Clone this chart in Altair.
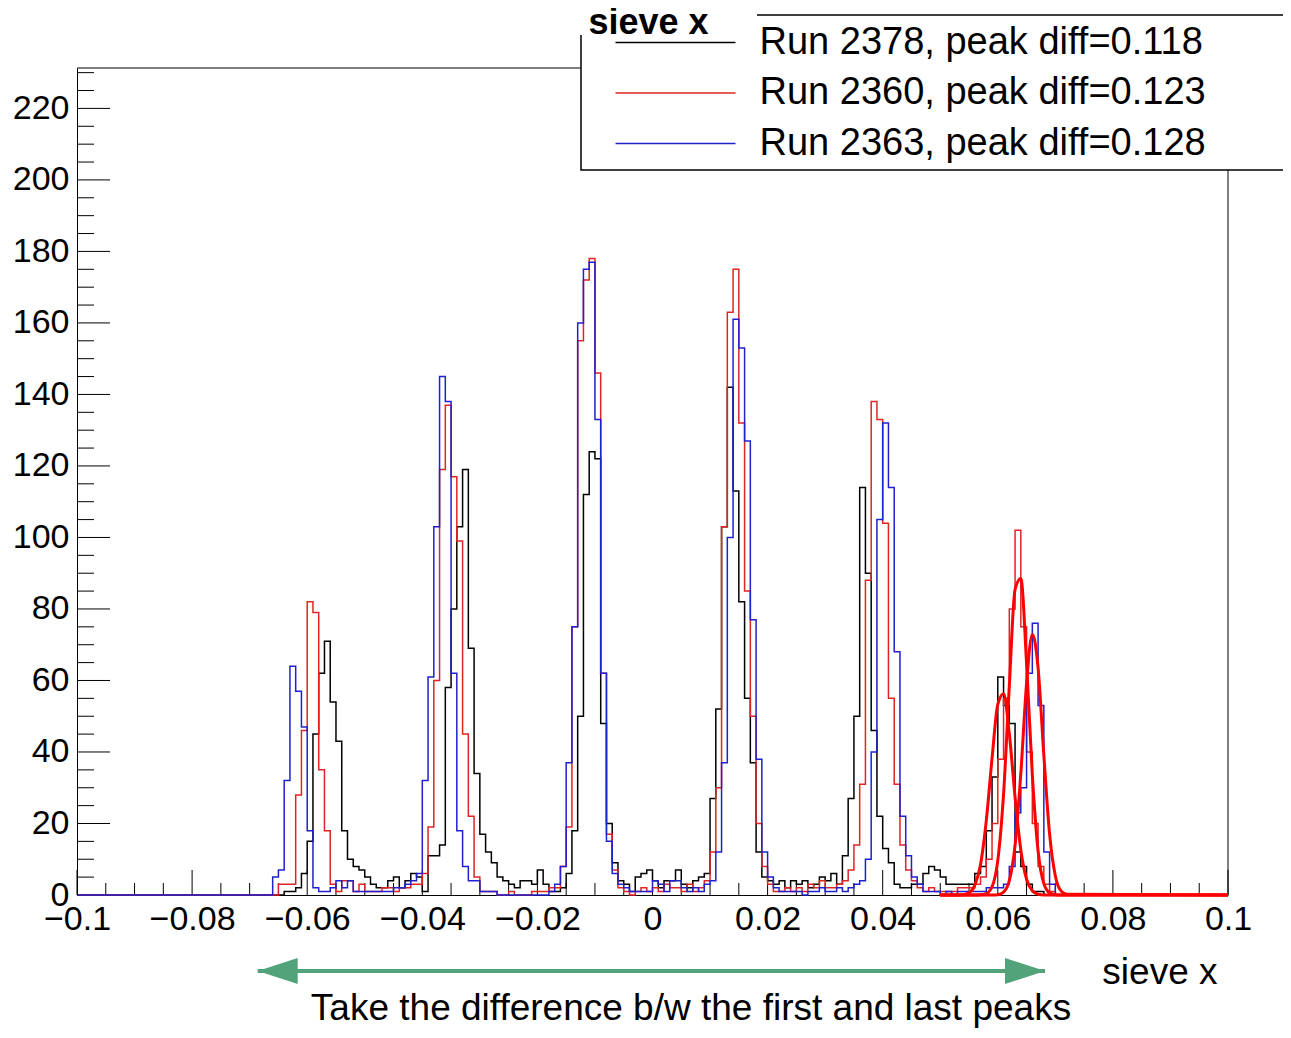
import altair as alt
import pandas as pd

# ---------------- data ----------------
X_MIN, X_MAX = -0.1, 0.1
N_BINS = 200
BIN_W = 0.001
FIRST_BIN = 30          # counts below start at bin 30 (x = -0.070)

runs = ["Run 2378, peak diff=0.118", "Run 2360, peak diff=0.123", "Run 2363, peak diff=0.128"]
run_colors = ["#000000", "#e02424", "#2020d0"]

counts_2378 = [
    0, 0, 0, 0, 0, 0, 1, 1, 2, 6,
    15, 45, 62, 71, 54, 43, 18, 10, 8, 7,
    5, 3, 2, 2, 4, 5, 2, 4, 6, 5,
    1, 11, 11, 14, 58, 80, 103, 119, 69, 34,
    17, 12, 9, 5, 4, 3, 2, 4, 4, 3,
    7, 3, 1, 1, 2, 6, 18, 50, 112, 124,
    122, 48, 20, 9, 4, 3, 1, 5, 6, 7,
    4, 2, 4, 4, 7, 3, 2, 4, 5, 6,
    27, 52, 103, 142, 113, 82, 55, 37, 12, 5,
    4, 3, 4, 2, 4, 3, 4, 2, 3, 5,
    4, 6, 3, 11, 27, 50, 114, 90, 46, 22,
    13, 9, 3, 2, 2, 3, 3, 6, 8, 7,
    5, 3, 3, 3, 3, 3, 6, 8, 18, 33,
    61, 53, 48, 12, 8, 3, 1, 1, 0, 0,
    0, 0, 0,
]
counts_2360 = [
    0, 0, 0, 0, 0, 3, 3, 3, 28, 46,
    82, 79, 35, 18, 3, 1, 4, 4, 1, 3,
    1, 1, 1, 2, 2, 1, 2, 2, 3, 3,
    6, 19, 60, 119, 137, 117, 99, 45, 22, 5,
    1, 1, 1, 0, 0, 1, 0, 0, 0, 1,
    1, 1, 2, 2, 8, 19, 75, 155, 172, 178,
    146, 62, 17, 7, 2, 1, 0, 1, 2, 1,
    2, 1, 3, 2, 2, 1, 3, 1, 2, 4,
    12, 30, 103, 163, 175, 132, 85, 50, 20, 8,
    3, 1, 1, 2, 1, 2, 1, 3, 2, 4,
    2, 2, 3, 4, 7, 14, 31, 88, 138, 133,
    104, 55, 31, 14, 7, 4, 2, 1, 2, 1,
    1, 1, 1, 2, 2, 2, 3, 5, 10, 20,
    38, 55, 80, 102, 75, 40, 20, 8, 3, 1,
    0, 0, 0,
]
counts_2363 = [
    0, 0, 0, 0, 5, 7, 32, 64, 57, 47,
    18, 2, 1, 1, 2, 4, 2, 4, 1, 1,
    1, 1, 1, 1, 1, 2, 2, 3, 4, 6,
    32, 61, 103, 145, 138, 62, 18, 8, 4, 4,
    1, 1, 1, 0, 0, 0, 0, 0, 0, 0,
    0, 0, 1, 3, 8, 37, 75, 160, 175, 177,
    133, 62, 15, 6, 3, 2, 1, 1, 1, 1,
    4, 3, 1, 4, 4, 2, 1, 2, 1, 3,
    4, 12, 37, 100, 161, 153, 127, 77, 38, 12,
    5, 2, 1, 1, 1, 1, 0, 1, 1, 2,
    1, 1, 2, 1, 2, 3, 4, 10, 40, 105,
    132, 114, 68, 22, 11, 5, 3, 1, 1, 1,
    0, 1, 0, 1, 1, 1, 1, 1, 2, 2,
    2, 3, 8, 23, 30, 62, 76, 53, 12, 3,
    0, 0, 0,
]

# gaussian fits on the last peak
fit_x = [0.050, 0.051, 0.052, 0.053, 0.054, 0.055, 0.056, 0.057, 0.058, 0.059,
         0.060, 0.061, 0.062, 0.063, 0.064, 0.065, 0.066, 0.067, 0.068, 0.069,
         0.070, 0.071, 0.072, 0.100]
fit_2378 = [0, 0, 0, 0, 0.1, 0.6, 2.7, 8.5, 20.8, 38.2,
            53.3, 56.3, 45.1, 27.4, 12.6, 4.4, 1.2, 0.2, 0, 0,
            0, 0, 0, 0]
fit_2360 = [0, 0, 0, 0, 0, 0, 0, 0.05, 0.4, 2.3,
            9.7, 28.2, 58.4, 85.5, 88.5, 64.8, 33.6, 12.3, 3.2, 0.6,
            0.1, 0, 0, 0]
fit_2363 = [0, 0, 0, 0, 0, 0, 0, 0, 0, 0,
            0.1, 0.8, 4.0, 13.9, 34.0, 59.2, 72.9, 63.5, 39.1, 17.0,
            5.3, 1.1, 0.2, 0]

x_tick_values = [-0.1, -0.08, -0.06, -0.04, -0.02, 0, 0.02, 0.04, 0.06, 0.08, 0.1]
y_tick_values = [0, 20, 40, 60, 80, 100, 120, 140, 160, 180, 200, 220]

arrow_ends = [-0.0686, 0.0682]
caption = "Take the difference b/w the first and last peaks"
title_text = "sieve x"
x_title = "sieve x"

# ---------------- layout constants ----------------
PLOT_W, PLOT_H = 1151, 827
Y_TOP = 231.3
FONT = "Liberation Sans"
GREEN = "#52a27a"

edges = [round(X_MIN + i * BIN_W, 4) for i in range(N_BINS + 1)]


def hist_frame(name, counts):
    full = [0] * N_BINS
    for i, c in enumerate(counts):
        full[FIRST_BIN + i] = c
    return pd.DataFrame({"x": edges, "y": full + [full[-1]], "run": name})


x_scale = alt.Scale(domain=[X_MIN, X_MAX], nice=False, zero=False)
y_scale = alt.Scale(domain=[0, Y_TOP], nice=False)
color_scale = alt.Scale(domain=runs, range=run_colors)

x_axis = alt.Axis(
    values=x_tick_values, format="~g",
    labelExpr="replace(datum.label, '-', '\u2212')",
    labelFontSize=34, labelFont=FONT, labelColor="black", labelPadding=7,
    labelFlush=False, labelOverlap=False,
    ticks=False, tickSize=0, grid=False,
    domainColor="black", domainWidth=1,
    title=x_title, titleFont=FONT, titleFontSize=37, titleFontWeight="normal",
    titleColor="black", titleAlign="right", titleBaseline="alphabetic",
    titleX=1140, titleY=88, titleAnchor="end",
)
# the histogram title ("sieve x", top) is carried by the y axis so that it
# is drawn above the legend box, as in the ROOT canvas
y_axis = alt.Axis(
    values=y_tick_values, format="d",
    labelFontSize=34, labelFont=FONT, labelColor="black", labelPadding=8,
    labelFlush=False, labelOverlap=False,
    ticks=False, tickSize=0, grid=False,
    domainColor="black", domainWidth=1,
    title=title_text, titleFont=FONT, titleFontSize=36, titleFontWeight="bold",
    titleColor="black", titleAngle=0, titleAlign="left", titleBaseline="alphabetic",
    titleX=511, titleY=-35, zindex=5,
)

legend = alt.Legend(
    title=None, orient="none", legendX=504, legendY=-53,
    symbolType="M-4,0H4", symbolSize=900, symbolStrokeWidth=1.5,
    labelFontSize=38, labelFont=FONT, labelColor="black", labelLimit=2000,
    padding=8.5, rowPadding=12.5, symbolOffset=67, labelOffset=65,
)

X = alt.X("x:Q", scale=x_scale, axis=x_axis)
Y = alt.Y("y:Q", scale=y_scale, axis=y_axis)


def hist_layer(name, counts):
    return alt.Chart(hist_frame(name, counts)).mark_line(
        interpolate="step-after", strokeWidth=1.5
    ).encode(
        x=X, y=Y,
        color=alt.Color("run:N", scale=color_scale, legend=legend),
    )


fit_df = pd.concat([
    pd.DataFrame({"x": fit_x, "y": f, "fit": k})
    for k, f in zip(runs, [fit_2378, fit_2360, fit_2363])
])
fits = alt.Chart(fit_df).mark_line(
    color="#ff0000", strokeWidth=3, interpolate="monotone"
).encode(x=X, y=Y, detail="fit:N")

# ticks drawn inside the frame (ROOT style)
x_major_df = pd.DataFrame({"x": x_tick_values})
x_minor_df = pd.DataFrame({"x": [round(X_MIN + 0.005 * i, 4) for i in range(41) if i % 4]})
y_major_df = pd.DataFrame({"y": y_tick_values})
y_minor_df = pd.DataFrame({"y": [5 * i for i in range(47) if i % 4]})

xt_major = alt.Chart(x_major_df).mark_rule(color="black", strokeWidth=1).encode(
    x=X, y=alt.value(PLOT_H), y2=alt.value(PLOT_H - 25))
xt_minor = alt.Chart(x_minor_df).mark_rule(color="black", strokeWidth=1).encode(
    x=X, y=alt.value(PLOT_H), y2=alt.value(PLOT_H - 12))
yt_major = alt.Chart(y_major_df).mark_rule(color="black", strokeWidth=1).encode(
    y=Y, x=alt.value(0), x2=alt.value(33))
yt_minor = alt.Chart(y_minor_df).mark_rule(color="black", strokeWidth=1).encode(
    y=Y, x=alt.value(0), x2=alt.value(17))

# frame: top and right sides (left/bottom are the axis lines)
one = pd.DataFrame({"k": [0]})
frame_top = alt.Chart(one).mark_rule(color="black", strokeWidth=1).encode(
    x=alt.value(0), x2=alt.value(PLOT_W), y=alt.value(0))
frame_right = alt.Chart(one).mark_rule(color="black", strokeWidth=1).encode(
    x=alt.value(PLOT_W), y=alt.value(0), y2=alt.value(PLOT_H))

# legend pave (white, bordered) and the title pave that overlaps its corner
legend_box = alt.Chart(one).mark_rect(fill="white", stroke="black", strokeWidth=1.5).encode(
    x=alt.value(504), x2=alt.value(1240), y=alt.value(-53), y2=alt.value(102))
title_box = alt.Chart(one).mark_rect(fill="white").encode(
    x=alt.value(480), x2=alt.value(680), y=alt.value(-68), y2=alt.value(-33))

# annotation arrow below the axis
arrow_df = pd.DataFrame({"x": [arrow_ends[0]], "x2": [arrow_ends[1]]})
arrow_line = alt.Chart(arrow_df).mark_rule(color=GREEN, strokeWidth=4).encode(
    x=X, x2="x2:Q", y=alt.value(903))
head_l = alt.Chart(pd.DataFrame({"x": [arrow_ends[0]]})).mark_point(
    shape="M0,0L2,-0.65L2,0.65Z", filled=True, size=1600, color=GREEN, opacity=1
).encode(x=X, y=alt.value(903))
head_r = alt.Chart(pd.DataFrame({"x": [arrow_ends[1]]})).mark_point(
    shape="M0,0L-2,-0.65L-2,0.65Z", filled=True, size=1600, color=GREEN, opacity=1
).encode(x=X, y=alt.value(903))

caption_txt = alt.Chart(pd.DataFrame({"t": [caption]})).mark_text(
    font=FONT, fontSize=37, color="black", align="center", baseline="alphabetic"
).encode(text="t:N", x=alt.value(614), y=alt.value(952))

chart = alt.layer(
    xt_major, xt_minor, yt_major, yt_minor, frame_top, frame_right,
    hist_layer(runs[0], counts_2378),
    hist_layer(runs[1], counts_2360),
    hist_layer(runs[2], counts_2363),
    fits,
    legend_box, title_box,
    arrow_line, head_l, head_r, caption_txt,
).properties(
    width=PLOT_W, height=PLOT_H,
    autosize=alt.AutoSizeParams(type="none"),
    padding={"left": 69, "top": 60, "right": 55, "bottom": 135},
).configure(font=FONT).configure_view(stroke="transparent")

chart.save("out.html", embed_options={"renderer": "svg", "actions": False})
